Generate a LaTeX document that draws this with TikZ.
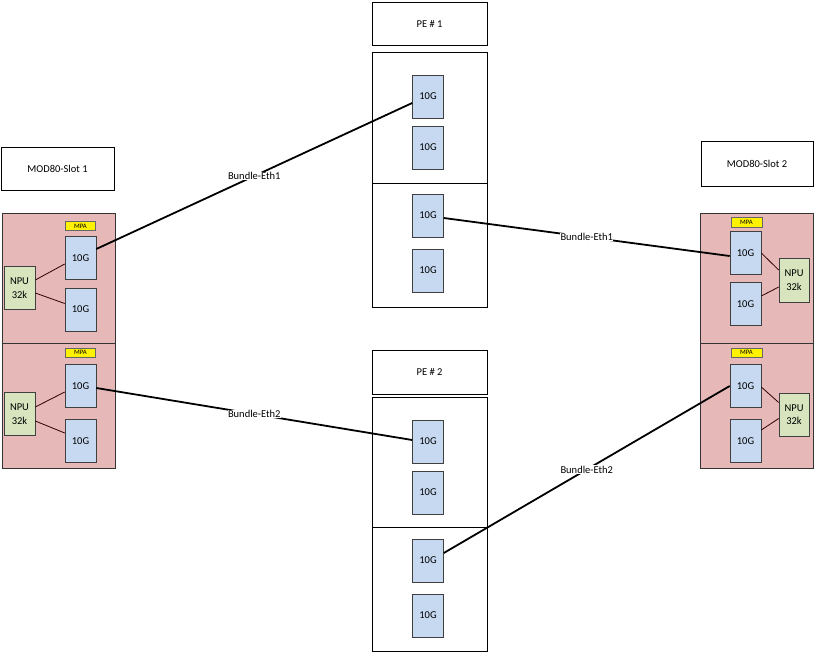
\documentclass[tikz,border=0pt]{standalone}
\usepackage{fontspec}
\setmainfont{Carlito}
\begin{document}
\begin{tikzpicture}[x=1pt,y=-1pt,
  every node/.style={font=\fontsize{10.5}{12}\selectfont, inner sep=0pt},
  plain/.style={draw=black, line width=0.75pt, fill=white},
  module/.style={draw=black!80, line width=0.75pt, fill=pinkf},
  tenG/.style={draw=black!75, line width=0.6pt, fill=bluef, minimum width=31pt, minimum height=43pt},
  npu/.style={draw=black!75, line width=0.6pt, fill=greenf, minimum width=31pt, minimum height=43pt, align=center, font=\fontsize{10.5}{13.5}\selectfont},
  mpa/.style={draw=black!60, line width=0.5pt, fill=yellow, minimum width=30pt, minimum height=9pt, font=\fontsize{6.7}{7}\selectfont},
  link/.style={line width=1.8pt, black},
  npulink/.style={line width=0.8pt, black!70!red!60!black},
  lbl/.style={fill=white, inner sep=0.5pt}]
\definecolor{pinkf}{HTML}{E6B9B8}
\definecolor{bluef}{HTML}{C6D9F1}
\definecolor{greenf}{HTML}{D7E4BD}
\useasboundingbox (0,0) rectangle (814,653);

% ---------- Left: MOD80-Slot 1 ----------
\node[plain, minimum width=113pt, minimum height=43pt] (slot1) at (57.5,168.5) {MOD80-Slot 1};
\node[module, minimum width=113pt, minimum height=130pt] (l1) at (58.5,278) {};
\node[module, minimum width=113pt, minimum height=125pt] (l2) at (58.5,405.5) {};
\node[mpa] (lmpa1) at (80.5,226) {MPA};
\node[tenG] (lg1) at (80.5,258) {10G};
\node[tenG] (lg2) at (80.5,309.5) {10G};
\node[npu] (lnpu1) at (19.5,288) {NPU\\32k};
\node[mpa] (lmpa2) at (80.5,352.5) {MPA};
\node[tenG] (lg3) at (80.5,386) {10G};
\node[tenG] (lg4) at (80.5,441) {10G};
\node[npu] (lnpu2) at (19.5,414) {NPU\\32k};
\draw[npulink] ([yshift=8pt]lnpu1.east) -- ([yshift=-6pt]lg1.west);
\draw[npulink] ([yshift=-5pt]lnpu1.east) -- ([yshift=6pt]lg2.west);
\draw[npulink] ([yshift=7pt]lnpu2.east) -- ([yshift=-6pt]lg3.west);
\draw[npulink] ([yshift=-7pt]lnpu2.east) -- ([yshift=8pt]lg4.west);

% ---------- Middle: PE # 1 ----------
\node[plain, minimum width=115pt, minimum height=43pt] (pe1) at (429.5,23.5) {PE \# 1};
\node[plain, minimum width=115pt, minimum height=131pt] (pe1a) at (429.5,117.5) {};
\node[plain, minimum width=115pt, minimum height=124pt] (pe1b) at (429.5,245) {};
\node[tenG] (pg1) at (428,96.5) {10G};
\node[tenG] (pg2) at (428,147.5) {10G};
\node[tenG] (pg3) at (428,215.5) {10G};
\node[tenG] (pg4) at (428,270.5) {10G};

% ---------- Middle: PE # 2 ----------
\node[plain, minimum width=115pt, minimum height=44pt] (pe2) at (429.5,372) {PE \# 2};
\node[plain, minimum width=115pt, minimum height=130pt] (pe2a) at (429.5,462) {};
\node[plain, minimum width=115pt, minimum height=124pt] (pe2b) at (429.5,589) {};
\node[tenG] (qg1) at (428,441.5) {10G};
\node[tenG] (qg2) at (428,492.5) {10G};
\node[tenG] (qg3) at (428,560.5) {10G};
\node[tenG] (qg4) at (428,615.5) {10G};

% ---------- Right: MOD80-Slot 2 ----------
\node[plain, minimum width=112pt, minimum height=45pt] (slot2) at (757,163.5) {MOD80-Slot 2};
\node[module, minimum width=113pt, minimum height=130pt] (r1) at (756.5,278) {};
\node[module, minimum width=113pt, minimum height=125pt] (r2) at (756.5,405.5) {};
\node[mpa, minimum width=31pt, minimum height=10pt] (rmpa1) at (746.5,222) {MPA};
\node[tenG] (rg1) at (745.5,253) {10G};
\node[tenG] (rg2) at (745.5,304) {10G};
\node[npu, minimum width=30pt, minimum height=44pt] (rnpu1) at (794,280) {NPU\\32k};
\node[mpa, minimum width=31pt] (rmpa2) at (746.5,352.5) {MPA};
\node[tenG] (rg3) at (745.5,386) {10G};
\node[tenG] (rg4) at (745.5,441) {10G};
\node[npu, minimum width=30pt, minimum height=43pt] (rnpu2) at (794,414.5) {NPU\\32k};
\draw[npulink] ([yshift=0pt]rg1.east) -- ([yshift=10pt]rnpu1.west);
\draw[npulink] ([yshift=8pt]rg2.east) -- ([yshift=-7pt]rnpu1.west);
\draw[npulink] ([yshift=-1pt]rg3.east) -- ([yshift=12pt]rnpu2.west);
\draw[npulink] ([yshift=11pt]rg4.east) -- ([yshift=-4pt]rnpu2.west);

% ---------- Bundles ----------
\draw[link] ([yshift=9pt]lg1.east) -- node[lbl] (b1) {Bundle-Eth1} ([yshift=-6.5pt]pg1.west);
\draw[link] ([yshift=-2.5pt]pg3.east) -- node[lbl] (b2) {Bundle-Eth1} ([yshift=-3pt]rg1.west);
\draw[link] ([yshift=-2pt]lg3.east) -- node[lbl] (b3) {Bundle-Eth2} ([yshift=1.5pt]qg1.west);
\draw[link] ([yshift=7.5pt]qg3.east) -- node[lbl] (b4) {Bundle-Eth2} ([yshift=0pt]rg3.west);
\end{tikzpicture}
\end{document}
